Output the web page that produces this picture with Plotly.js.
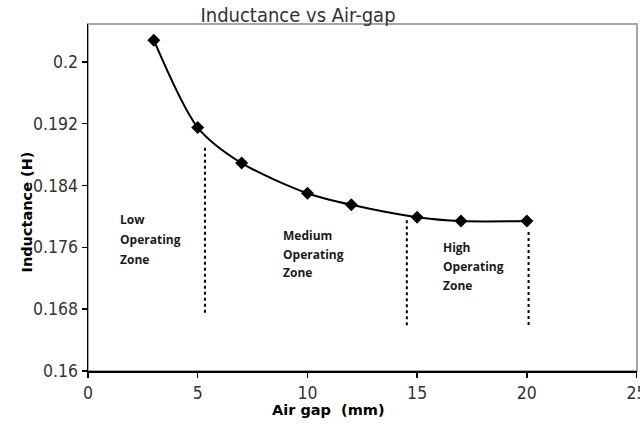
<!DOCTYPE html>
<html>
<head>
<meta charset="utf-8">
<script src="https://cdn.plot.ly/plotly-3.0.1.min.js"></script>
<style>html,body{margin:0;padding:0;background:#fff;}#chart{width:640px;height:424px;}</style>
</head>
<body>
<div id="chart"></div>
<script>
// Data
const airGap = [3, 5, 7, 10, 12, 15, 17, 20];
const inductance = [0.2028, 0.1915, 0.1869, 0.1830, 0.1815, 0.1799, 0.1794, 0.1794];

// Zone boundary dotted lines (x, yTop, yBottom)
const boundaryX = [5.33, 14.53, 20.08];
const boundaryTop = [0.1889, 0.1795, 0.1780];
const boundaryBottom = [0.1672, 0.1658, 0.1657];

// Zone labels, one entry per text line
const zoneWords = ["Low", "Operating", "Zone", "Medium", "Operating", "Zone", "High", "Operating", "Zone"];
const zoneWordX = [1.37, 1.37, 1.37, 8.79, 8.79, 8.79, 16.07, 16.07, 16.07];
const zoneWordY = [0.17955, 0.17696, 0.17437, 0.17748, 0.17502, 0.17269, 0.17592, 0.17346, 0.17100];

const xTicks = [0, 5, 10, 15, 20, 25];
const yTicks = [0.16, 0.168, 0.176, 0.184, 0.192, 0.2];

const traces = [];
boundaryX.forEach((x, i) => {
  traces.push({
    x: [x, x], y: [boundaryTop[i], boundaryBottom[i]],
    mode: 'lines', type: 'scatter', hoverinfo: 'skip', showlegend: false,
    line: {color: '#000', width: 2, dash: 'dot'}
  });
});
traces.push({
  x: airGap, y: inductance, type: 'scatter', mode: 'lines+markers', showlegend: false,
  line: {color: '#000', width: 2, shape: 'spline', smoothing: 0.8},
  marker: {symbol: 'diamond', size: 10, color: '#000'}
});

const annotations = zoneWords.map((t, i) => ({
  x: zoneWordX[i], y: zoneWordY[i], xref: 'x', yref: 'y',
  text: '<b>' + t + '</b>', showarrow: false, align: 'left',
  xanchor: 'left', yanchor: 'middle',
  font: {family: 'Open Sans, Lato, Arial, sans-serif', size: 12, color: '#1a1a1a'}
}));
annotations.push({
  text: '<b>Air gap  (mm)</b>', xref: 'paper', yref: 'paper',
  x: (328 - 88) / (637 - 88), y: -0.113, xanchor: 'center', yanchor: 'middle',
  showarrow: false, font: {family: 'DejaVu Sans, Arial, sans-serif', size: 14.5, color: '#000'}
});
annotations.push({
  text: '<b>Inductance (H)</b>', xref: 'paper', yref: 'paper', textangle: -90,
  x: -0.112, y: (371 - 212) / (371 - 24), xanchor: 'center', yanchor: 'middle',
  showarrow: false, font: {family: 'DejaVu Sans, Arial, sans-serif', size: 14.5, color: '#000'}
});

const tickFont = {family: 'DejaVu Sans Condensed, Liberation Sans Narrow, Arial, sans-serif', size: 17.5, color: '#333'};

const layout = {
  width: 640, height: 424,
  margin: {l: 88, r: 3, t: 24, b: 53},
  paper_bgcolor: '#fff', plot_bgcolor: '#fff',
  title: {
    text: 'Inductance vs Air-gap',
    x: 298 / 640, xref: 'container', xanchor: 'center',
    y: 1 - 15 / 424, yref: 'container', yanchor: 'middle',
    font: {family: 'DejaVu Sans Condensed, Liberation Sans Narrow, Arial, sans-serif', size: 20, color: '#333'}
  },
  xaxis: {
    range: [0, 25.02], tickvals: xTicks, ticktext: xTicks.map(String),
    showgrid: false, zeroline: false, showline: true, linecolor: '#000', linewidth: 1.5,
    ticks: 'outside', ticklen: 5, tickcolor: '#000', tickwidth: 1.5,
    ticklabeloverflow: 'allow',
    tickfont: tickFont
  },
  yaxis: {
    range: [0.16, 0.2049], tickvals: yTicks, ticktext: yTicks.map(String),
    showgrid: false, zeroline: false, showline: true, linecolor: '#000', linewidth: 1.5,
    ticks: 'outside', ticklen: 5, tickcolor: '#000', tickwidth: 1.5,
    ticklabeloverflow: 'allow',
    tickfont: tickFont
  },
  shapes: [{
    type: 'rect', xref: 'paper', yref: 'paper', x0: 0, x1: 1, y0: 0, y1: 1,
    line: {color: '#a6a6a6', width: 2}, layer: 'below'
  }],
  annotations: annotations
};

Plotly.newPlot('chart', traces, layout, {displayModeBar: false, staticPlot: true});
</script>
</body>
</html>
